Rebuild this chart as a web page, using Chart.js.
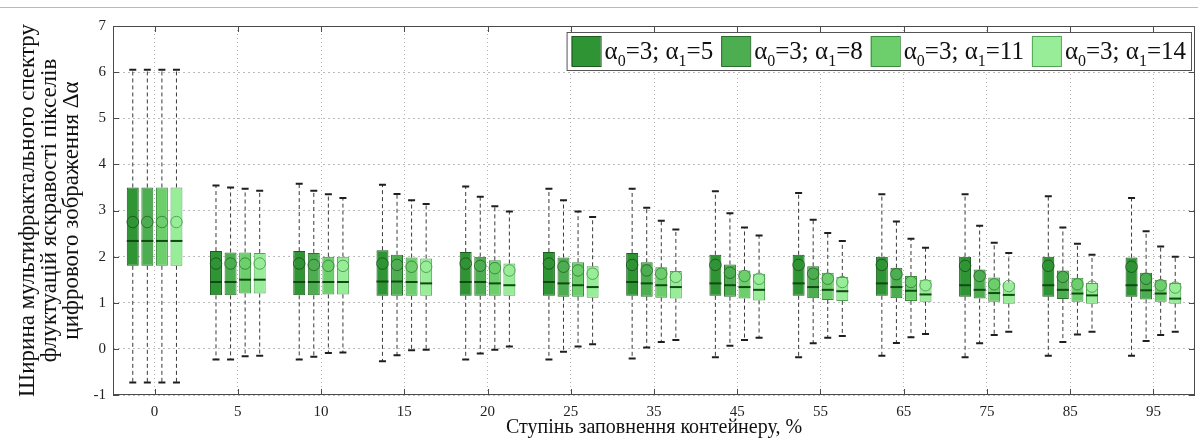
<!DOCTYPE html>
<html>
<head>
<meta charset="UTF-8">
<title>Ширина мультифрактального спектру</title>
<script src="https://cdn.jsdelivr.net/npm/chart.js"></script>
<style>
  html, body { margin: 0; padding: 0; background: #fff; }
  .wrap { position: relative; width: 1198px; height: 441px; }
  .topline { position: absolute; left: 0; right: 0; top: 7px; height: 1px; background: #b9b9b9; }
  canvas { display: block; }
</style>
</head>
<body>
<div class="wrap">
  <div class="topline"></div>
  <canvas id="boxChart" width="1198" height="441"></canvas>
</div>
<script>
// ступінь заповнення контейнеру, %
const categories = ['0', '5', '10', '15', '20', '25', '35', '45', '55', '65', '75', '85', '95'];
// α0 = 3, α1 для кожної серії
const alpha1 = [5, 8, 11, 14];

// значення для кожної серії (рядок = серія, стовпець = категорія)
const whiskerHigh = [
  [6.05, 3.54, 3.58, 3.56, 3.52, 3.47, 3.47, 3.42, 3.38, 3.35, 3.35, 3.31, 3.27],
  [6.05, 3.50, 3.43, 3.36, 3.30, 3.22, 3.06, 2.94, 2.80, 2.76, 2.67, 2.63, 2.55],
  [6.05, 3.47, 3.35, 3.22, 3.09, 2.98, 2.78, 2.63, 2.51, 2.39, 2.30, 2.28, 2.22],
  [6.05, 3.43, 3.27, 3.14, 2.98, 2.86, 2.59, 2.46, 2.34, 2.19, 2.08, 2.04, 2.00]
];
const upperQuartile = [
  [3.50, 2.12, 2.12, 2.14, 2.10, 2.10, 2.08, 2.04, 2.04, 2.00, 2.00, 2.00, 1.98],
  [3.50, 2.09, 2.08, 2.04, 2.00, 1.98, 1.88, 1.83, 1.79, 1.76, 1.72, 1.70, 1.65],
  [3.50, 2.09, 2.00, 1.98, 1.92, 1.88, 1.77, 1.70, 1.65, 1.58, 1.55, 1.54, 1.50],
  [3.50, 2.08, 2.00, 1.96, 1.85, 1.79, 1.69, 1.63, 1.56, 1.50, 1.44, 1.43, 1.43]
];
const medians = [
  [2.34, 1.45, 1.45, 1.46, 1.45, 1.45, 1.45, 1.42, 1.42, 1.42, 1.38, 1.38, 1.38],
  [2.34, 1.45, 1.45, 1.46, 1.45, 1.42, 1.42, 1.38, 1.34, 1.34, 1.28, 1.28, 1.27],
  [2.34, 1.50, 1.45, 1.45, 1.42, 1.38, 1.38, 1.34, 1.28, 1.26, 1.21, 1.20, 1.20],
  [2.34, 1.50, 1.45, 1.42, 1.38, 1.34, 1.34, 1.28, 1.25, 1.18, 1.17, 1.16, 1.09]
];
const means = [
  [2.75, 1.85, 1.85, 1.85, 1.85, 1.85, 1.82, 1.82, 1.82, 1.82, 1.80, 1.80, 1.78],
  [2.75, 1.85, 1.82, 1.82, 1.80, 1.78, 1.70, 1.65, 1.63, 1.62, 1.58, 1.56, 1.52],
  [2.75, 1.85, 1.80, 1.78, 1.75, 1.70, 1.63, 1.58, 1.52, 1.45, 1.40, 1.40, 1.38],
  [2.75, 1.85, 1.80, 1.78, 1.70, 1.63, 1.56, 1.52, 1.45, 1.38, 1.36, 1.35, 1.33]
];
const lowerQuartile = [
  [1.80, 1.16, 1.16, 1.15, 1.15, 1.15, 1.15, 1.15, 1.15, 1.15, 1.13, 1.13, 1.13],
  [1.80, 1.16, 1.16, 1.15, 1.15, 1.13, 1.13, 1.13, 1.10, 1.10, 1.09, 1.08, 1.07],
  [1.80, 1.20, 1.18, 1.15, 1.15, 1.13, 1.11, 1.09, 1.06, 1.04, 1.02, 1.02, 1.02],
  [1.80, 1.20, 1.18, 1.15, 1.15, 1.11, 1.09, 1.05, 1.04, 1.02, 0.98, 0.98, 0.98]
];
const whiskerLow = [
  [-0.73, -0.23, -0.23, -0.27, -0.23, -0.23, -0.21, -0.18, -0.18, -0.15, -0.18, -0.15, -0.15],
  [-0.73, -0.23, -0.17, -0.14, -0.10, -0.06, 0.03, 0.07, 0.12, 0.13, 0.12, 0.15, 0.17],
  [-0.73, -0.16, -0.09, -0.03, -0.02, 0.05, 0.15, 0.19, 0.24, 0.25, 0.30, 0.31, 0.30],
  [-0.73, -0.15, -0.08, -0.02, 0.05, 0.10, 0.19, 0.24, 0.28, 0.32, 0.37, 0.37, 0.37]
];

const fills = ['#2f9433', '#4cae50', '#6ccf6c', '#98ee98'];
const edges = ['#1c5a1e', '#2b6f2d', '#3b8b3d', '#52a454'];
const serif = '"Liberation Serif", "Times New Roman", serif';

// вуса, медіана, середнє
const boxParts = {
  id: 'boxParts',
  afterDatasetsDraw(chart) {
    const ctx = chart.ctx, y = chart.scales.y;
    ctx.save();
    chart.data.datasets.forEach((ds, i) => {
      const meta = chart.getDatasetMeta(i);
      meta.data.forEach((bar, j) => {
        const x = bar.x, w = bar.width;
        const top = y.getPixelForValue(upperQuartile[i][j]);
        const bot = y.getPixelForValue(lowerQuartile[i][j]);
        const hi = y.getPixelForValue(whiskerHigh[i][j]);
        const lo = y.getPixelForValue(whiskerLow[i][j]);

        ctx.strokeStyle = '#3a3a3a';
        ctx.lineWidth = 1;
        ctx.setLineDash([4, 3]);
        ctx.beginPath();
        ctx.moveTo(x, top); ctx.lineTo(x, hi);
        ctx.moveTo(x, bot); ctx.lineTo(x, lo);
        ctx.stroke();

        ctx.setLineDash([]);
        ctx.strokeStyle = '#1e1e1e';
        ctx.lineWidth = 2;
        ctx.beginPath();
        ctx.moveTo(x - 3.5, hi); ctx.lineTo(x + 3.5, hi);
        ctx.moveTo(x - 3.5, lo); ctx.lineTo(x + 3.5, lo);
        ctx.stroke();

        const med = y.getPixelForValue(medians[i][j]);
        ctx.strokeStyle = '#0f4a12';
        ctx.lineWidth = 2;
        ctx.beginPath();
        ctx.moveTo(x - w / 2, med); ctx.lineTo(x + w / 2, med);
        ctx.stroke();

        const mn = y.getPixelForValue(means[i][j]);
        ctx.strokeStyle = edges[i];
        ctx.lineWidth = 1;
        ctx.beginPath();
        ctx.arc(x, mn, w * 0.48, 0, Math.PI * 2);
        ctx.stroke();
      });
    });
    ctx.restore();
  }
};

// рамка осей і внутрішні засічки
const frame = {
  id: 'frame',
  beforeDatasetsDraw(chart) {
    const ctx = chart.ctx, a = chart.chartArea;
    const x = chart.scales.x, y = chart.scales.y;
    ctx.save();
    ctx.strokeStyle = '#4a4a4a';
    ctx.lineWidth = 1;
    ctx.strokeRect(a.left + 0.5, a.top + 0.5, a.right - a.left - 1, a.bottom - a.top - 1);
    ctx.beginPath();
    y.ticks.forEach(t => {
      const py = Math.round(y.getPixelForValue(t.value)) + 0.5;
      ctx.moveTo(a.left, py); ctx.lineTo(a.left + 6, py);
      ctx.moveTo(a.right, py); ctx.lineTo(a.right - 6, py);
    });
    categories.forEach((c, k) => {
      const px = Math.round(x.getPixelForValue(k)) + 0.5;
      ctx.moveTo(px, a.bottom); ctx.lineTo(px, a.bottom - 6);
      ctx.moveTo(px, a.top); ctx.lineTo(px, a.top + 6);
    });
    ctx.stroke();
    ctx.restore();
  }
};

// легенда з індексами
const legendBox = {
  id: 'legendBox',
  afterDraw(chart) {
    const ctx = chart.ctx, a = chart.chartArea;
    const big = '25px ' + serif, small = '16px ' + serif;
    const sq = 29, gapSq = 4, gapItem = 8, pad = 5;
    const items = alpha1.map(v => [['α', big, 0], ['0', small, 7], ['=3; α', big, 0], ['1', small, 7], ['=' + v, big, 0]]);
    const widths = items.map(parts => parts.reduce((s, p) => { ctx.font = p[1]; return s + ctx.measureText(p[0]).width; }, 0));
    let total = pad * 2;
    widths.forEach((w, k) => { total += sq + gapSq + w + (k < widths.length - 1 ? gapItem : 0); });
    const right = a.right - 4, left = right - total, top = a.top + 6, h = 38;
    ctx.save();
    ctx.fillStyle = '#fff';
    ctx.fillRect(left, top, total, h);
    ctx.strokeStyle = '#555';
    ctx.lineWidth = 1;
    ctx.strokeRect(left + 0.5, top + 0.5, total, h);
    let cx = left + pad;
    items.forEach((parts, k) => {
      ctx.fillStyle = fills[k];
      ctx.fillRect(cx, top + 4, sq, h - 8);
      ctx.strokeStyle = edges[k];
      ctx.strokeRect(cx + 0.5, top + 4.5, sq, h - 8);
      cx += sq + gapSq;
      ctx.fillStyle = '#111';
      ctx.textBaseline = 'alphabetic';
      parts.forEach(p => {
        ctx.font = p[1];
        ctx.fillText(p[0], cx, top + 27 + p[2]);
        cx += ctx.measureText(p[0]).width;
      });
      cx += gapItem;
    });
    ctx.restore();
  }
};

new Chart(document.getElementById('boxChart'), {
  type: 'bar',
  data: {
    labels: categories,
    datasets: alpha1.map((v, i) => ({
      label: 'α0=3; α1=' + v,
      data: categories.map((c, j) => [lowerQuartile[i][j], upperQuartile[i][j]]),
      backgroundColor: fills[i],
      borderColor: edges[i],
      borderWidth: 1,
      borderSkipped: false,
      categoryPercentage: 0.7,
      barPercentage: 0.82
    }))
  },
  options: {
    responsive: false,
    animation: false,
    layout: { padding: { top: 26, right: 3, left: 0, bottom: 0 } },
    plugins: {
      legend: { display: false },
      tooltip: { enabled: false }
    },
    scales: {
      x: {
        grid: { offset: false, color: '#b4b4b4', drawTicks: false },
        border: { display: false, dash: [1, 3] },
        ticks: { color: '#222', padding: 8, font: { family: serif, size: 15 } },
        title: {
          display: true,
          text: 'Ступінь заповнення контейнеру, %',
          color: '#111',
          font: { family: serif, size: 20 },
          padding: { top: 0, bottom: 1 }
        },
        afterFit(scale) { scale.height = 46; }
      },
      y: {
        min: -1,
        max: 7,
        ticks: { stepSize: 1, color: '#222', padding: 7, font: { family: serif, size: 15 } },
        grid: { color: '#bcbcbc', drawTicks: false },
        border: { display: false, dash: [2, 3] },
        title: {
          display: true,
          text: ['Ширина мультифрактального спектру', 'флуктуацій яскравості пікселів', 'цифрового зображення Δα'],
          color: '#111',
          font: { family: serif, size: 23, lineHeight: 0.96 },
          padding: { top: 17, bottom: 0 }
        },
        afterFit(scale) { scale.width = 113; }
      }
    }
  },
  plugins: [frame, boxParts, legendBox]
});
</script>
</body>
</html>
